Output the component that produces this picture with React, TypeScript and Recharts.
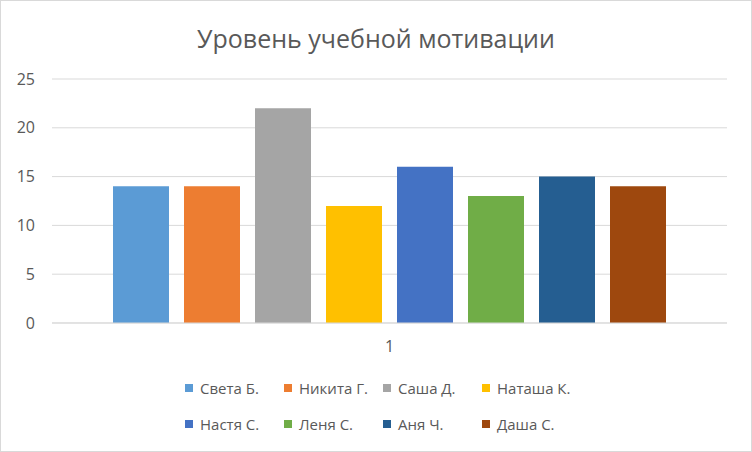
import { BarChart, Bar, XAxis, YAxis, CartesianGrid } from 'recharts';

const seriesNames = ['Света Б.', 'Никита Г.', 'Саша Д.', 'Наташа К.', 'Настя С.', 'Леня С.', 'Аня Ч.', 'Даша С.'];
const seriesValues = [14, 14, 22, 12, 16, 13, 15, 14];
const seriesColors = ['#5b9bd5', '#ed7d31', '#a5a5a5', '#ffc000', '#4472c4', '#70ad47', '#255e91', '#9e480e'];
const categories = ['1'];
const yTicks = [0, 5, 10, 15, 20, 25];

const FONT = '"Open Sans", "Noto Sans", sans-serif';
const TEXT = '#595959';

const data = categories.map((name) => {
  const row: Record<string, string | number> = { name };
  seriesNames.forEach((_, i) => {
    row['s' + i] = seriesValues[i];
  });
  return row;
});

function LegendBlock() {
  return (
    <div
      style={{
        position: 'absolute',
        left: 184,
        top: 369,
        width: 400,
        display: 'flex',
        flexWrap: 'wrap',
        fontFamily: FONT,
        fontSize: 15,
        color: TEXT,
      }}
    >
      {seriesNames.map((n, i) => (
        <div key={n} style={{ width: 99, height: 36, display: 'flex', alignItems: 'center' }}>
          <span style={{ width: 8, height: 8, background: seriesColors[i], marginRight: 7, display: 'inline-block' }} />
          <span style={{ whiteSpace: 'nowrap' }}>{n}</span>
        </div>
      ))}
    </div>
  );
}

export default function App() {
  return (
    <div
      style={{
        position: 'absolute',
        left: 0,
        top: 0,
        width: 750,
        height: 450,
        border: '1px solid #d9d9d9',
        background: '#fff',
      }}
    >
      <div
        style={{
          position: 'absolute',
          top: 20,
          left: 0,
          width: 750,
          textAlign: 'center',
          fontFamily: FONT,
          fontSize: 25,
          lineHeight: '34px',
          color: TEXT,
        }}
      >
        Уровень учебной мотивации
      </div>
      <div style={{ position: 'absolute', left: -1, top: -1 }}>
        <BarChart
          width={752}
          height={452}
          data={data}
          margin={{ top: 79, right: 25, left: 0, bottom: 99 }}
          barSize={56}
          barGap={15}
        >
          <CartesianGrid vertical={false} stroke="#d9d9d9" />
          <XAxis
            dataKey="name"
            height={30}
            axisLine={{ stroke: '#d9d9d9' }}
            tickLine={false}
            tickSize={0}
            tickMargin={18}
            tick={{ fill: TEXT, fontSize: 16, fontFamily: FONT }}
          />
          <YAxis
            width={52}
            domain={[0, 25]}
            ticks={yTicks}
            axisLine={false}
            tickLine={false}
            tickSize={0}
            tickMargin={17}
            tick={{ fill: TEXT, fontSize: 16, fontFamily: FONT }}
          />
          {seriesNames.map((n, i) => (
            <Bar key={n} dataKey={'s' + i} name={n} fill={seriesColors[i]} isAnimationActive={false} />
          ))}
        </BarChart>
      </div>
      <LegendBlock />
    </div>
  );
}
